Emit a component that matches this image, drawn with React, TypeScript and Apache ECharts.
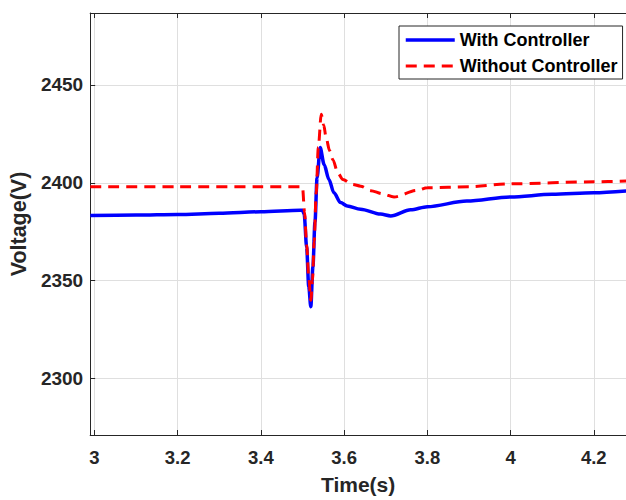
import React, { useEffect, useRef } from "react";
import * as echarts from "echarts";

const xTicks = [3, 3.2, 3.4, 3.6, 3.8, 4, 4.2];
const yTicks = [2300, 2350, 2400, 2450];

const withTime = [2.99, 3.1, 3.2, 3.3, 3.4, 3.495, 3.5, 3.504, 3.51, 3.515, 3.52, 3.525, 3.53, 3.535, 3.5425, 3.552, 3.5636, 3.5755, 3.5915, 3.6075, 3.6396, 3.6875, 3.712, 3.76, 3.8, 3.895, 4.0, 4.1, 4.2, 4.278];
const withVolt = [2383.3, 2383.5, 2383.8, 2384.4, 2385.2, 2386, 2386, 2384, 2367, 2347, 2336.7, 2357, 2380, 2402.5, 2418, 2409.3, 2401.7, 2394.9, 2389.9, 2388.2, 2386.5, 2384, 2383.1, 2386.2, 2387.8, 2390.7, 2392.8, 2394.1, 2394.9, 2395.8];

const withoutTime = [2.99, 3.2, 3.4, 3.5, 3.505, 3.51, 3.515, 3.52, 3.524, 3.528, 3.533, 3.538, 3.545, 3.551, 3.557, 3.565, 3.573, 3.585, 3.597, 3.62, 3.64, 3.664, 3.692, 3.72, 3.775, 3.8, 3.9, 4.0, 4.2, 4.278];
const withoutVolt = [2398, 2398, 2398, 2398, 2384.8, 2368, 2352, 2340, 2350, 2370, 2395, 2418, 2435, 2429.5, 2422.8, 2416.5, 2411.8, 2405, 2401.7, 2399.2, 2398.3, 2396, 2394.4, 2392.8, 2396.1, 2397.5, 2398, 2399.5, 2400.5, 2400.9];

const seriesNames = ["With Controller", "Without Controller"];

const FONT = "Liberation Sans, Arial, Helvetica, sans-serif";
const AX = "#262626";
const GRID = "#dfdfdf";

export default function App() {
  const ref = useRef<HTMLDivElement>(null);
  useEffect(() => {
    if (!ref.current) return;
    const chart = echarts.init(ref.current, undefined, { renderer: "svg" });
    const zip = (t: number[], v: number[]) => t.map((x, i) => [x, v[i]]);
    chart.setOption({
      animation: false,
      backgroundColor: "#ffffff",
      textStyle: { fontFamily: FONT },
      grid: { left: 89, top: 13, right: 0, bottom: 61, containLabel: false },
      legend: {
        orient: "vertical",
        left: 399,
        top: 26,
        padding: [5, 5, 4, 5],
        itemGap: 8,
        itemWidth: 49,
        itemHeight: 14,
        borderColor: AX,
        borderWidth: 1,
        backgroundColor: "#ffffff",
        itemStyle: { color: "rgba(0,0,0,0)", borderWidth: 0, opacity: 0 },
        textStyle: { fontFamily: FONT, fontWeight: "bold", fontSize: 18, color: "#000", lineHeight: 18 },
        data: [
          { name: seriesNames[0], lineStyle: { width: 3.5 } },
          { name: seriesNames[1], lineStyle: { width: 3 } },
        ],
      },
      xAxis: [
        {
          type: "value",
          min: 2.9897,
          max: 4.2775,
          name: "Time(s)",
          nameLocation: "middle",
          nameGap: 39,
          nameTextStyle: { fontFamily: FONT, fontWeight: "bold", fontSize: 21, color: AX },
          axisLine: { show: true, lineStyle: { color: AX, width: 1 } },
          axisTick: { show: true, inside: true, length: 5, lineStyle: { color: AX }, customValues: xTicks },
          axisLabel: { customValues: xTicks, margin: 13, fontFamily: FONT, fontWeight: "bold", fontSize: 18.5, color: AX, formatter: (v: number) => String(v) },
          splitLine: { show: true, lineStyle: { color: GRID, width: 1 } },
        },
        {
          type: "value",
          position: "top",
          min: 2.9897,
          max: 4.2775,
          axisLine: { show: true, onZero: false, lineStyle: { color: AX, width: 1 } },
          axisTick: { show: true, inside: true, length: 5, lineStyle: { color: AX }, customValues: xTicks },
          axisLabel: { show: false },
          splitLine: { show: false },
        },
      ],
      yAxis: {
        type: "value",
        min: 2271.1,
        max: 2486.8,
        name: "Voltage(V)",
        nameLocation: "middle",
        nameGap: 58,
        nameTextStyle: { fontFamily: FONT, fontWeight: "bold", fontSize: 21.5, color: AX },
        axisLine: { show: true, lineStyle: { color: AX, width: 1 } },
        axisTick: { show: true, inside: true, length: 5, lineStyle: { color: AX }, customValues: yTicks },
        axisLabel: { customValues: yTicks, margin: 7, fontFamily: FONT, fontWeight: "bold", fontSize: 19, color: AX, formatter: (v: number) => String(v) },
        splitLine: { show: true, lineStyle: { color: GRID, width: 1 } },
      },
      series: [
        {
          name: seriesNames[0],
          type: "line",
          data: zip(withTime, withVolt),
          symbol: "none",
          smooth: 0.3,
          smoothMonotone: "x",
          lineStyle: { color: "#0000ff", width: 3.5 },
          itemStyle: { color: "#0000ff" },
          z: 3,
        },
        {
          name: seriesNames[1],
          type: "line",
          data: zip(withoutTime, withoutVolt),
          symbol: "none",
          smooth: 0.3,
          smoothMonotone: "x",
          lineStyle: { color: "#ff0000", width: 3, type: [11, 7] },
          itemStyle: { color: "#ff0000" },
          z: 4,
        },
      ],
    });
    return () => chart.dispose();
  }, []);
  return <div ref={ref} style={{ position: "fixed", left: 0, top: 0, width: 626, height: 500 }} />;
}
